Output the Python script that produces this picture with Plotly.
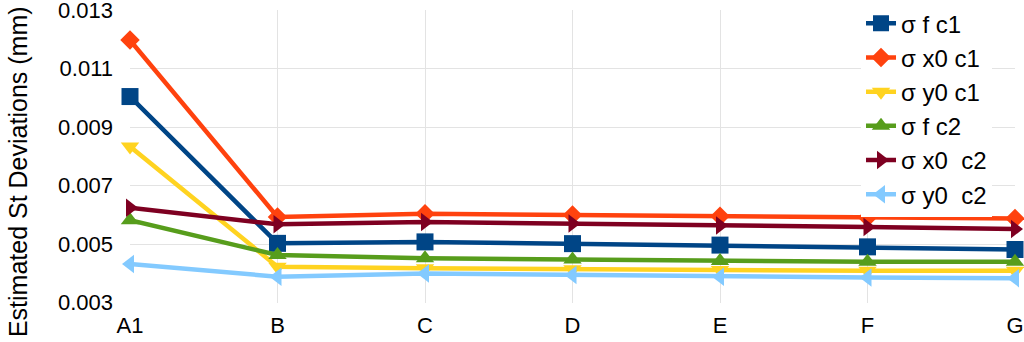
import plotly.graph_objects as go

categories = ["A1", "B", "C", "D", "E", "F", "G"]

sigma_f_c1 = [0.01005, 0.00503, 0.00508, 0.00502, 0.00497, 0.00491, 0.00482]
sigma_x0_c1 = [0.01198, 0.00593, 0.00604, 0.00600, 0.00596, 0.00591, 0.00588]
sigma_y0_c1 = [0.00834, 0.00423, 0.00418, 0.00414, 0.00412, 0.00409, 0.00409]
sigma_f_c2 = [0.00582, 0.00463, 0.00452, 0.00448, 0.00443, 0.00440, 0.00440]
sigma_x0_c2 = [0.00625, 0.00568, 0.00576, 0.00571, 0.00564, 0.00559, 0.00552]
sigma_y0_c2 = [0.00432, 0.00389, 0.00400, 0.00395, 0.00389, 0.00386, 0.00384]

series_names = ["σ f c1", "σ x0 c1", "σ y0 c1", "σ f c2", "σ x0\u00a0 c2", "σ y0\u00a0 c2"]
series_values = [sigma_f_c1, sigma_x0_c1, sigma_y0_c1, sigma_f_c2, sigma_x0_c2, sigma_y0_c2]
colors = ["#004586", "#ff420e", "#ffd320", "#579d1c", "#7e0021", "#83caff"]
symbols = ["square", "diamond", "triangle-down", "triangle-up", "triangle-right", "triangle-left"]
sizes = [17, 15, 16, 16, 16, 16]

y_ticks = [0.003, 0.005, 0.007, 0.009, 0.011, 0.013]
y_title = "Estimated St Deviations (mm)"

fig = go.Figure()
for i, (name, vals) in enumerate(zip(series_names, series_values)):
    fig.add_trace(go.Scatter(
        x=categories, y=vals, name=name, mode="lines+markers",
        legendgroup=f"g{i}",
        line=dict(color=colors[i], width=4.5),
        marker=dict(symbol=symbols[i], size=sizes[i], color=colors[i]),
        cliponaxis=False,
    ))

fig.update_layout(
    width=1024, height=342,
    margin=dict(l=130, r=9, t=10, b=39, autoexpand=False),
    paper_bgcolor="white", plot_bgcolor="white",
    font=dict(family="Liberation Sans, Arial, sans-serif", size=22, color="#000000"),
    showlegend=True,
    legend=dict(
        x=0.826, y=0.293, xanchor="left", yanchor="bottom",
        bgcolor="rgba(255,255,255,1)", borderwidth=0,
        font=dict(size=24), tracegroupgap=0,
    ),
    annotations=[dict(
        text=y_title, textangle=-90, xref="paper", yref="paper",
        x=-0.1266, y=0.45, xanchor="center", yanchor="middle",
        showarrow=False, font=dict(size=25, color="#000000"),
    )],
)
fig.update_xaxes(
    type="category", range=[0, 6], showgrid=True, gridcolor="#e3e3e3", gridwidth=1,
    showline=False, zeroline=False, ticks="", tickfont=dict(size=22),
    ticklabelstandoff=7, automargin=False,
)
fig.update_yaxes(
    range=[0.00299, 0.01301], tickvals=y_ticks, tickformat=".3f",
    showgrid=True, gridcolor="#e3e3e3", gridwidth=1, zeroline=False, showline=False,
    ticks="", tickfont=dict(size=22), ticklabelstandoff=16, automargin=False,
    ticklabeloverflow="allow",
)

fig.write_html("out.html", post_script="document.body.style.margin='0';",
               config={"displayModeBar": False})
